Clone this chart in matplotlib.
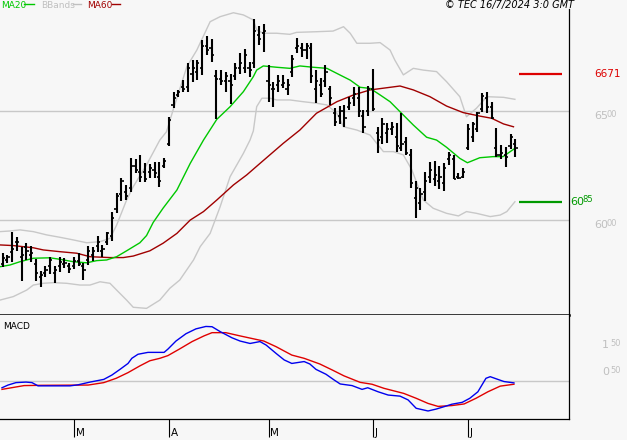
#!/usr/bin/env python3
"""OHLC chart with MA20 / MA60 / Bollinger bands and a MACD panel."""

import matplotlib
matplotlib.use("Agg")
import matplotlib.pyplot as plt
from matplotlib.lines import Line2D

# --- daily bars (index 0 .. 108) -------------------------------------------
highs = [5848, 5841, 5948, 5925, 5879, 5897, 5882, 5821, 5769, 5790,
         5833, 5792, 5833, 5828, 5805, 5833, 5848, 5805, 5882, 5879,
         5928, 5886, 5948, 6039, 6127, 6192, 6162, 6284, 6280, 6300,
         6261, 6257, 6269, 6269, 6284, 6475, 6590, 6598, 6644, 6720,
         6735, 6735, 6827, 6845, 6830, 6689, 6689, 6682, 6671, 6723,
         6769, 6784, 6728, 6922, 6891, 6900, 6712, 6636, 6666, 6666,
         6647, 6758, 6835, 6812, 6815, 6812, 6689, 6651, 6711, 6616,
         6514, 6524, 6529, 6567, 6610, 6610, 6506, 6616, 6692, 6429,
         6468, 6445, 6452, 6445, 6494, 6384, 6325, 6182, 6150, 6223,
         6269, 6274, 6249, 6261, 6315, 6299, 6215, 6238, 6440, 6452,
         6498, 6582, 6590, 6544, 6422, 6345, 6335, 6396, 6372]
lows = [5787, 5802, 5810, 5860, 5723, 5818, 5810, 5723, 5692, 5740,
        5753, 5714, 5764, 5779, 5757, 5775, 5792, 5727, 5795, 5815,
        5856, 5833, 5886, 5906, 6032, 6090, 6093, 6131, 6215, 6177,
        6177, 6192, 6192, 6154, 6238, 6341, 6514, 6567, 6590, 6590,
        6636, 6644, 6666, 6758, 6728, 6463, 6620, 6590, 6533, 6644,
        6671, 6677, 6659, 6697, 6804, 6773, 6544, 6518, 6590, 6605,
        6575, 6656, 6766, 6747, 6738, 6628, 6536, 6567, 6613, 6529,
        6433, 6442, 6426, 6506, 6524, 6475, 6402, 6478, 6503, 6307,
        6350, 6353, 6391, 6315, 6319, 6300, 6147, 6009, 6047, 6090,
        6170, 6157, 6142, 6136, 6254, 6188, 6188, 6193, 6322, 6361,
        6407, 6498, 6491, 6463, 6292, 6280, 6246, 6326, 6292]
opens = [5798, 5820, 5854, 5902, 5833, 5879, 5840, 5800, 5740, 5760,
         5790, 5760, 5790, 5800, 5790, 5790, 5815, 5790, 5820, 5840,
         5880, 5860, 5900, 5930, 6050, 6120, 6130, 6150, 6250, 6220,
         6220, 6220, 6230, 6200, 6250, 6350, 6530, 6575, 6610, 6610,
         6670, 6680, 6700, 6800, 6790, 6660, 6650, 6640, 6640, 6660,
         6700, 6700, 6700, 6720, 6850, 6860, 6640, 6600, 6620, 6620,
         6600, 6680, 6790, 6790, 6780, 6790, 6600, 6620, 6640, 6600,
         6490, 6480, 6500, 6520, 6560, 6560, 6480, 6500, 6600, 6400,
         6380, 6400, 6420, 6380, 6330, 6360, 6300, 6100, 6080, 6130,
         6200, 6190, 6180, 6170, 6280, 6280, 6200, 6200, 6330, 6380,
         6420, 6510, 6560, 6520, 6330, 6300, 6300, 6340, 6350]
closes = [5825, 5833, 5870, 5900, 5840, 5860, 5850, 5760, 5750, 5770,
          5820, 5770, 5810, 5805, 5775, 5815, 5800, 5770, 5860, 5860,
          5900, 5870, 5940, 6010, 6110, 6180, 6110, 6250, 6230, 6200,
          6190, 6240, 6215, 6180, 6270, 6460, 6560, 6590, 6600, 6700,
          6700, 6720, 6800, 6780, 6760, 6650, 6640, 6660, 6620, 6700,
          6720, 6760, 6690, 6870, 6830, 6870, 6620, 6600, 6640, 6630,
          6620, 6740, 6800, 6780, 6800, 6660, 6640, 6580, 6680, 6560,
          6450, 6500, 6470, 6540, 6580, 6500, 6430, 6600, 6510, 6370,
          6440, 6420, 6430, 6340, 6350, 6310, 6170, 6150, 6120, 6180,
          6230, 6210, 6200, 6240, 6300, 6190, 6195, 6220, 6420, 6440,
          6490, 6570, 6520, 6470, 6300, 6310, 6290, 6380, 6330]

# --- indicator lines (bar index, value) -------------------------------------
ma20_x = [-0.57, 1.54, 3.64, 6.45, 9.96, 12.07, 14.87, 17.7, 19.8, 21.9,
          24.0, 26.1, 28.9, 30.3, 31.7, 33.8, 36.7, 39.5, 42.3, 45.1,
          47.9, 50.7, 52.8, 53.5, 54.9, 57.7, 60.5, 62.6, 65.4, 68.3,
          71.1, 73.2, 75.3, 77.4, 79.5, 81.6, 83.7, 86.5, 89.3, 91.4,
          93.5, 96.3, 97.9, 100.5, 103.3, 105.4, 107.9]
ma20_y = [5787, 5795, 5810, 5826, 5828, 5821, 5810, 5805, 5815, 5818,
          5833, 5860, 5897, 5930, 5990, 6056, 6139, 6261, 6368, 6463,
          6521, 6590, 6659, 6689, 6708, 6702, 6697, 6708, 6702, 6697,
          6666, 6643, 6610, 6605, 6575, 6544, 6498, 6437, 6381, 6368,
          6335, 6284, 6264, 6287, 6292, 6292, 6330]

ma60_x = [-0.57, 2.23, 6.45, 8.55, 12.07, 15.59, 18.39, 22.6, 25.4, 27.5,
          31.0, 33.8, 36.7, 39.5, 42.3, 45.1, 48.6, 51.4, 54.2, 59.1,
          62.6, 66.1, 70.4, 73.9, 77.4, 81.6, 83.7, 86.5, 90.0, 93.5,
          97.0, 100.5, 103.0, 105.5, 107.6]
ma60_y = [5887, 5884, 5874, 5864, 5856, 5849, 5833, 5829, 5829, 5836,
          5860, 5895, 5940, 6001, 6040, 6093, 6162, 6208, 6261, 6353,
          6414, 6491, 6544, 6575, 6598, 6610, 6616, 6598, 6567, 6524,
          6494, 6478, 6468, 6442, 6429]

bb_up_x = [-0.57, 1.54, 3.64, 6.45, 9.27, 12.07, 14.87, 17.7, 20.5, 22.6,
           24.0, 26.1, 27.5, 30.3, 33.1, 34.5, 35.9, 38.8, 40.9, 43.7,
           45.8, 48.6, 50.7, 52.8, 53.5, 54.9, 57.7, 60.5, 61.9, 66.1,
           69.6, 71.8, 73.2, 74.6, 77.4, 79.5, 81.6, 82.6, 84.4, 86.5,
           88.6, 91.4, 93.5, 96.3, 97.7, 99.8, 102.0, 105.5, 107.9]
bb_up_y = [5948, 5951, 5956, 5948, 5933, 5922, 5910, 5897, 5902, 5917,
           5978, 6093, 6154, 6254, 6368, 6406, 6506, 6705, 6781, 6911,
           6934, 6952, 6942, 6919, 6873, 6858, 6858, 6853, 6862, 6865,
           6868, 6888, 6858, 6812, 6812, 6815, 6781, 6735, 6667, 6697,
           6689, 6682, 6636, 6567, 6475, 6514, 6567, 6564, 6555]

bb_lo_x = [-0.57, 2.23, 5.06, 6.45, 8.55, 10.66, 13.48, 16.28, 18.39, 20.5,
           22.6, 24.0, 26.1, 27.5, 30.3, 33.1, 35.2, 37.3, 40.2, 41.6,
           43.7, 45.8, 47.9, 50.7, 52.1, 52.8, 53.5, 54.6, 56.3, 57.7,
           60.5, 63.3, 66.1, 68.3, 70.4, 71.8, 74.6, 77.4, 78.8, 80.2,
           82.3, 84.4, 86.2, 88.6, 90.7, 93.5, 96.0, 97.7, 99.8, 102.7,
           104.8, 106.2, 107.9]
bb_lo_y = [5634, 5650, 5680, 5703, 5711, 5714, 5711, 5703, 5703, 5718,
           5711, 5680, 5634, 5601, 5596, 5634, 5688, 5726, 5818, 5879,
           5940, 6062, 6200, 6307, 6368, 6410, 6521, 6560, 6560, 6552,
           6552, 6544, 6537, 6529, 6491, 6429, 6414, 6391, 6353, 6315,
           6315, 6300, 6231, 6093, 6055, 6032, 6020, 6040, 6032, 6017,
           6024, 6040, 6085]

# --- MACD panel --------------------------------------------------------------
macd_x = [-0.15, 1.12, 2.8, 4.9, 6.17, 7.44, 11.2, 14.2, 15.9, 18.4,
          21.3, 23.0, 24.7, 26.4, 27.2, 28.5, 30.6, 34.0, 34.8, 36.5,
          38.6, 40.7, 42.8, 44.1, 45.8, 48.3, 50.0, 52.1, 54.2, 55.5,
          57.6, 59.3, 60.9, 63.5, 64.7, 66.0, 68.1, 69.8, 71.1, 73.6,
          75.7, 76.9, 79.1, 81.2, 83.7, 85.4, 87.1, 89.6, 91.3, 93.0,
          94.6, 96.8, 98.4, 100.1, 101.8, 102.7, 104.3, 105.6, 107.7]
macd_y = [-25, -15, -6, -4, -6, -18, -18, -18, -14, -4,
          6, 22, 43, 65, 84, 99, 106, 106, 118, 148,
          175, 193, 202, 201, 183, 160, 148, 139, 146, 133,
          102, 78, 65, 72, 63, 43, 25, 4, -11, -17,
          -31, -25, -40, -52, -56, -70, -101, -111, -104, -95,
          -86, -79, -64, -40, 10, 16, 6, -2, -7]

signal_x = [-0.15, 4.5, 7.86, 18.0, 21.3, 23.9, 26.4, 28.9, 31.0, 33.1,
            34.8, 37.3, 39.9, 42.4, 44.1, 47.0, 50.0, 53.4, 55.0, 57.6,
            60.9, 63.5, 66.8, 69.4, 71.9, 75.3, 77.8, 80.3, 84.5, 87.1,
            89.6, 91.7, 94.6, 97.2, 99.7, 102.2, 104.8, 107.7]
signal_y = [-31, -17, -16, -15, -6, 10, 31, 56, 75, 84,
            94, 119, 146, 167, 179, 179, 167, 154, 148, 127,
            96, 84, 63, 41, 19, -5, -12, -27, -46, -64,
            -83, -94, -91, -85, -64, -40, -19, -12]

month_ticks = [15, 35, 56, 78, 98]
month_labels = ["M", "A", "M", "J", "J"]
price_levels = [6000, 6500]
macd_levels = [50, 150]
resistance = 6671
support = 6085

BG = "#f7f7f7"
GRID = "#c8c8c8"

fig = plt.figure(figsize=(6.27, 4.40), dpi=100, facecolor=BG)
ax = fig.add_axes([0, 125 / 440, 569 / 627, 306 / 440], facecolor=BG)
axm = fig.add_axes([0, 21 / 440, 569 / 627, 104 / 440], facecolor=BG)

xlim = (-2.7 / 4.747, (569 - 2.7) / 4.747)

# price panel
for lv in price_levels:
    ax.axhline(lv, color=GRID, lw=1.0, zorder=1)
ax.plot(bb_up_x, bb_up_y, color=GRID, lw=1.0, zorder=2)
ax.plot(bb_lo_x, bb_lo_y, color=GRID, lw=1.0, zorder=2)
ax.plot(ma60_x, ma60_y, color="#a00000", lw=1.0, zorder=3)
ax.plot(ma20_x, ma20_y, color="#00c800", lw=1.0, zorder=3)

idx = list(range(len(highs)))
ax.vlines(idx, lows, highs, color="black", lw=1.5, zorder=4)
ax.hlines(opens, [i - 0.45 for i in idx], idx, color="black", lw=1.2, zorder=4)
ax.hlines(closes, idx, [i + 0.45 for i in idx], color="black", lw=1.2, zorder=4)

ax.hlines(resistance, 108.8, 117.8, color="#dd0000", lw=1.6, zorder=4)
ax.hlines(support, 108.8, 117.8, color="#009900", lw=1.6, zorder=4)

ax.set_xlim(*xlim)
ax.set_ylim(5565.6, 6969.2)
ax.set_xticks([])
ax.set_yticks([])
for s in ("left", "top"):
    ax.spines[s].set_visible(False)
ax.spines["right"].set_linewidth(0.9)
ax.spines["bottom"].set_linewidth(1.8)

tr = ax.get_yaxis_transform()
for lv in price_levels:
    s = str(lv)
    ax.text(1.044, lv, s[:2], transform=tr, color="#c0c0c0", fontsize=8,
            va="top", ha="left", clip_on=False)
    ax.text(1.066, lv + 4, s[2:], transform=tr, color="#c0c0c0", fontsize=6,
            va="top", ha="left", clip_on=False)
ax.text(1.044, resistance, str(resistance), transform=tr, color="#dd0000",
        fontsize=7.5, va="center", ha="left", clip_on=False)
ax.text(1.0015, support, str(support)[:2], transform=tr, color="#009900",
        fontsize=8, va="center", ha="left", clip_on=False)
ax.text(1.0235, support + 10, str(support)[2:], transform=tr, color="#009900",
        fontsize=6, va="center", ha="left", clip_on=False)

# MACD panel
axm.axhline(0, color=GRID, lw=1.0, zorder=1)
axm.plot(signal_x, signal_y, color="#e00000", lw=1.0, zorder=3)
axm.plot(macd_x, macd_y, color="#0000ee", lw=1.0, zorder=3)
axm.set_xlim(*xlim)
axm.set_ylim(-140.7, 244.4)
axm.set_yticks([])
axm.set_xticks(month_ticks)
axm.set_xticklabels([])
axm.tick_params(axis="x", direction="out", length=13, width=0.8, color="black")
for s in ("left", "top"):
    axm.spines[s].set_visible(False)
axm.spines["right"].set_linewidth(0.9)
axm.spines["bottom"].set_linewidth(0.9)

trm = axm.get_yaxis_transform()
for lv in macd_levels:
    s = "%03d" % lv
    axm.text(1.058, lv, s[0], transform=trm, color="#c0c0c0", fontsize=8,
             va="top", ha="left", clip_on=False)
    axm.text(1.073, lv + 4, s[1:], transform=trm, color="#c0c0c0", fontsize=6,
             va="top", ha="left", clip_on=False)
axm.text(0.006, 0.885, "MACD", transform=axm.transAxes, fontsize=6.5,
         va="center", ha="left")

trx = axm.get_xaxis_transform()
for t, lab in zip(month_ticks, month_labels):
    axm.text(t + 0.35, -0.13, lab, transform=trx, fontsize=7.5,
             va="center", ha="left", clip_on=False)

# header
y_head = 1 - 5 / 440
fig.text(1 / 627, y_head, "MA20", color="#00c800", fontsize=6.5, va="center")
fig.add_artist(Line2D([24 / 627, 34 / 627], [1 - 4.5 / 440] * 2,
                      color="#00c800", lw=1.0, transform=fig.transFigure))
fig.text(41 / 627, y_head, "BBands", color="#c0c0c0", fontsize=6.5, va="center")
fig.add_artist(Line2D([73 / 627, 81 / 627], [1 - 4.5 / 440] * 2,
                      color="#c0c0c0", lw=1.0, transform=fig.transFigure))
fig.text(87 / 627, y_head, "MA60", color="#a00000", fontsize=6.5, va="center")
fig.add_artist(Line2D([112 / 627, 120 / 627], [1 - 4.5 / 440] * 2,
                      color="#a00000", lw=1.0, transform=fig.transFigure))
fig.text(574 / 627, y_head, "\u00a9 TEC 16/7/2024 3:0 GMT", fontsize=7,
         style="italic", va="center", ha="right")

fig.savefig("out.png", dpi=100, facecolor=BG)
